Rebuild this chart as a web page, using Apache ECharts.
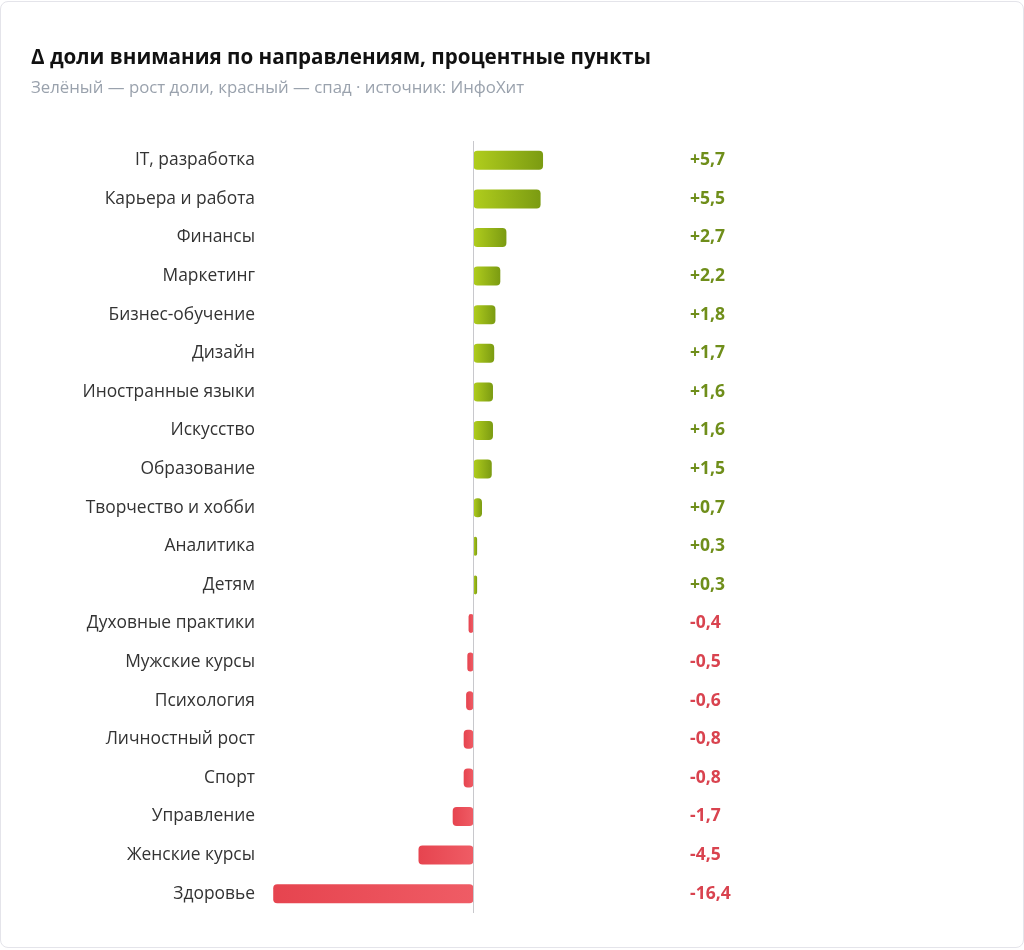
<!DOCTYPE html>
<html><head><meta charset="utf-8">
<script src="https://cdn.jsdelivr.net/npm/echarts@6/dist/echarts.min.js"></script>
<style>
html,body{margin:0;padding:0;background:#fff;}
#card{position:absolute;left:0;top:1px;width:1022px;height:945px;border:1px solid #e4e4ea;border-radius:8px;background:#fff;}
#chart{width:1024px;height:950px;position:absolute;left:0;top:0;}
</style></head>
<body><div id="card"></div><div id="chart"></div>
<script>
const categories = ["IT, разработка","Карьера и работа","Финансы","Маркетинг","Бизнес-обучение","Дизайн","Иностранные языки","Искусство","Образование","Творчество и хобби","Аналитика","Детям","Духовные практики","Мужские курсы","Психология","Личностный рост","Спорт","Управление","Женские курсы","Здоровье"];
const values = [5.7,5.5,2.7,2.2,1.8,1.7,1.6,1.6,1.5,0.7,0.3,0.3,-0.4,-0.5,-0.6,-0.8,-0.8,-1.7,-4.5,-16.4];
const valueLabels = values.map(v => (v > 0 ? "+" : "") + v.toFixed(1).replace(".", ","));

const FF = '"Open Sans", sans-serif';
const green = {type:'linear',x:0,y:0,x2:1,y2:0,colorStops:[{offset:0,color:'#b0cd1d'},{offset:1,color:'#7b9b12'}]};
const red = {type:'linear',x:0,y:0,x2:1,y2:0,colorStops:[{offset:0,color:'#e6444f'},{offset:1,color:'#ef5c65'}]};

const chart = echarts.init(document.getElementById('chart'));
chart.setOption({
  animation:false,
  textStyle:{fontFamily:FF},
  title:{
    text:'Δ доли внимания по направлениям, процентные пункты',
    subtext:'Зелёный — рост доли, красный — спад · источник: ИнфоХит',
    left:31, top:48, itemGap:11, padding:0,
    textStyle:{fontSize:20.6,fontWeight:'bold',color:'#111',fontFamily:FF},
    subtextStyle:{fontSize:16.8,color:'#9aa2ad',fontFamily:FF}
  },
  grid:{left:272, width:409, top:141, height:772},
  xAxis:{type:'value', min:-16.5, max:17, show:false},
  yAxis:[
    {type:'category', data:categories, inverse:true,
     axisLine:{show:false}, axisTick:{show:false},
     axisLabel:{margin:17, fontSize:17.4, color:'#333', fontFamily:FF}},
    {type:'category', data:valueLabels, inverse:true, position:'right',
     axisLine:{show:false}, axisTick:{show:false},
     axisLabel:{margin:9, align:'left', fontSize:17.5, fontWeight:'bold', fontFamily:FF,
       formatter:(s)=> s.charAt(0)==='-' ? '{n|'+s+'}' : '{p|'+s+'}',
       rich:{p:{color:'#6f8e1a',fontWeight:'bold',fontSize:17.5,fontFamily:FF},n:{color:'#d9434f',fontWeight:'bold',fontSize:17.5,fontFamily:FF}}}}
  ],
  series:[{
    type:'bar', barWidth:19,
    data: values.map(v=>({value:v, itemStyle:{color: v>=0?green:red, borderRadius:4}})),
    markLine:{silent:true, symbol:'none', label:{show:false},
      lineStyle:{color:'#c8c8cc', width:1, type:'solid'},
      data:[{xAxis:0}]}
  }]
});
</script></body></html>
